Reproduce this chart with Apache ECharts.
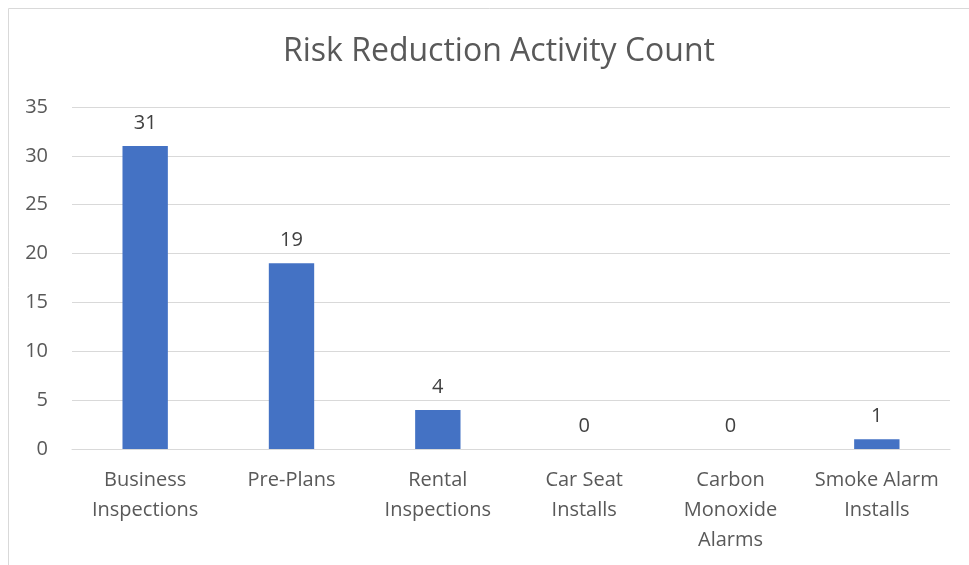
<!DOCTYPE html>
<html lang="en">
<head>
    <meta charset="UTF-8">
    <title>Risk Reduction Activity Count</title>
    <script src="https://cdn.jsdelivr.net/npm/echarts@6/dist/echarts.min.js"></script>
    <style>
        html, body { margin: 0; padding: 0; background: #fff; }
        #main { width: 969px; height: 565px; }
    </style>
</head>
<body>
<div id="main"></div>
<script>
    var categories = ['Business\nInspections', 'Pre-Plans', 'Rental\nInspections', 'Car Seat\nInstalls', 'Carbon\nMonoxide\nAlarms', 'Smoke Alarm\nInstalls'];
    var counts = [31, 19, 4, 0, 0, 1];
    var yTicks = { min: 0, max: 35, interval: 5 };

    var chart = echarts.init(document.getElementById('main'));
    var font = '"Open Sans", "Noto Sans", sans-serif';

    var option = {
        animation: false,
        // chart frame (only top and left edges visible in the source)
        graphic: [{
            type: 'rect',
            shape: { x: 8.5, y: 8.5, width: 1000, height: 600 },
            style: { fill: 'none', stroke: '#d9d9d9', lineWidth: 1 },
            silent: true
        }],
        title: {
            text: 'Risk Reduction Activity Count',
            left: 494,
            textAlign: 'center',
            top: 31,
            textStyle: { color: '#595959', fontSize: 32, fontWeight: 'normal', fontFamily: font }
        },
        grid: { left: 72, right: 19, top: 107, bottom: 116 },
        xAxis: {
            type: 'category',
            data: categories,
            axisTick: { show: false },
            axisLine: { lineStyle: { color: '#d9d9d9', width: 1 } },
            axisLabel: {
                color: '#595959', fontSize: 20, fontFamily: font,
                lineHeight: 30, margin: 16, interval: 0
            }
        },
        yAxis: {
            type: 'value',
            min: yTicks.min,
            max: yTicks.max,
            interval: yTicks.interval,
            axisLine: { show: false },
            axisTick: { show: false },
            axisLabel: { color: '#595959', fontSize: 20, fontFamily: font, margin: 24 },
            splitLine: { lineStyle: { color: '#d9d9d9', width: 1 } }
        },
        series: [{
            type: 'bar',
            data: counts,
            barWidth: '31%',
            itemStyle: { color: '#4472c4' },
            label: {
                show: true,
                position: 'top',
                distance: 13,
                color: '#404040',
                fontSize: 20,
                fontFamily: font
            }
        }]
    };

    chart.setOption(option);
</script>
</body>
</html>
